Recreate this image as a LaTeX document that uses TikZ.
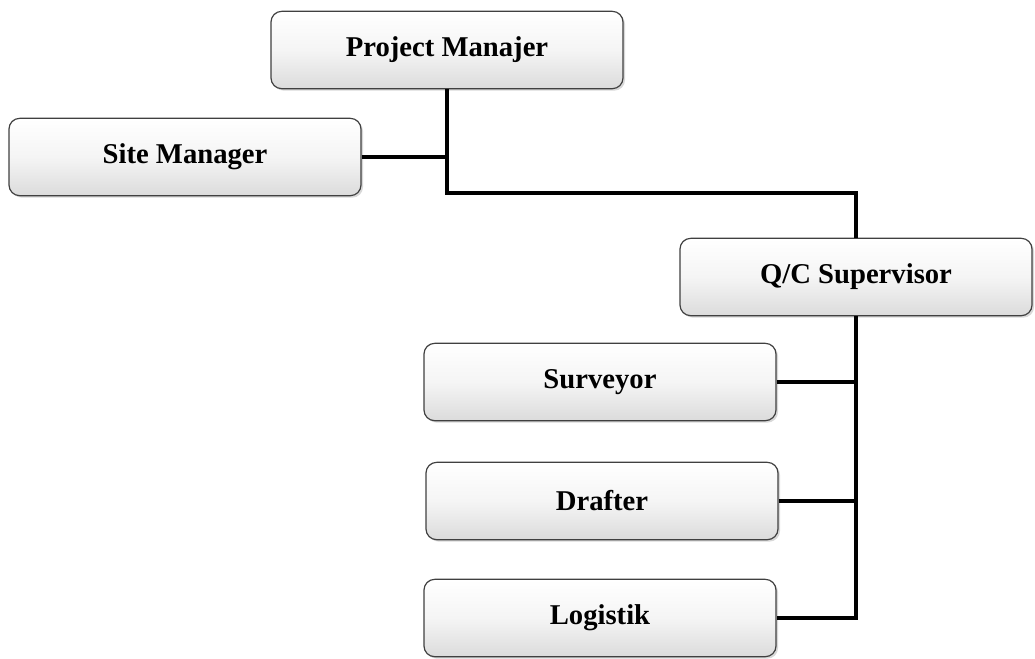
\documentclass[tikz,border=0pt]{standalone}
\usepackage{fontspec}
\setmainfont{Liberation Serif}
\usetikzlibrary{shadows}

\tikzset{
  orgbox/.style={draw=black!75, line width=0.9pt, rounded corners=8pt,
    top color=white, bottom color=black!14, middle color=black!4,
    minimum width=264pt, minimum height=58pt, inner sep=0pt,
    drop shadow={shadow xshift=1.5pt, shadow yshift=-1.5pt, fill=black!30},
    font=\fontsize{21.5}{26}\selectfont\bfseries},
  link/.style={line width=3pt}
}

\begin{document}
\begin{tikzpicture}[x=0.75pt,y=0.75pt,yscale=-1,xscale=1]
\useasboundingbox (0,0) rectangle (1035,658);

% boxes
\node[orgbox] (pm) at (447,50) {Project Manajer};
\node[orgbox] (sm) at (185,157) {Site Manager};
\node[orgbox] (qc) at (856,277) {Q/C Supervisor};
\node[orgbox] (sv) at (600,382) {Surveyor};
\node[orgbox] (dr) at (602,501) {Drafter};
\node[orgbox] (lg) at (600,618) {Logistik};

% junction
\coordinate (jn) at (447,193);

% connectors
\draw[link] (pm.south) -- (jn) -| (qc.north);
\draw[link] (sm.east) -- (sm.east -| pm.south);
\draw[link] (qc.south) |- (lg.east);
\draw[link] (sv.east) -- (sv.east -| qc.south);
\draw[link] (dr.east) -- (dr.east -| qc.south);

\end{tikzpicture}
\end{document}
